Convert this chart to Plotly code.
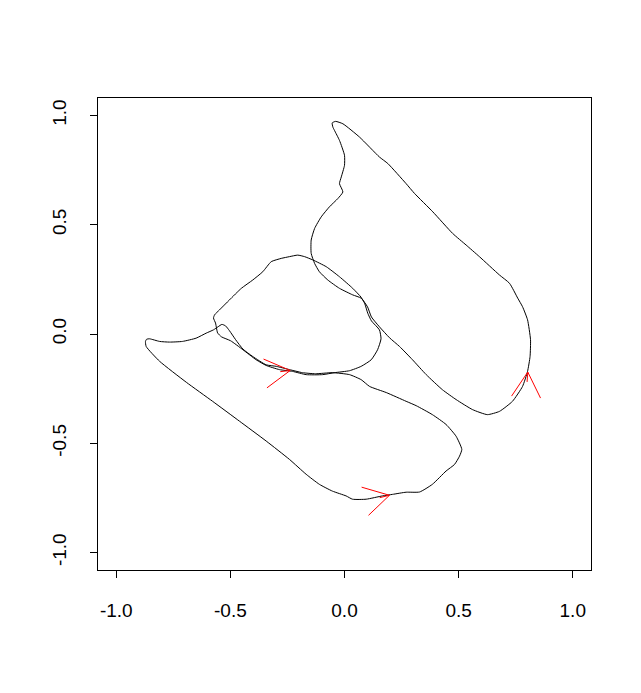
import math
import plotly.graph_objects as go

# three closed loops (counter-clockwise)
right_x = [0.626, 0.679, 0.736, 0.780, 0.802, 0.813, 0.815, 0.802, 0.780, 0.759,
           0.723, 0.679, 0.591, 0.533, 0.474, 0.387, 0.307, 0.270, 0.190, 0.153,
           0.066, -0.007, -0.039, -0.054, -0.051, -0.044, -0.022, 0.000, 0.000, -0.014,
           -0.022, -0.007, -0.029, -0.066, -0.102, -0.131, -0.146, -0.146, -0.131, -0.110,
           -0.073, -0.022, 0.036, 0.073, 0.101, 0.118, 0.153, 0.197, 0.241, 0.298,
           0.358, 0.429, 0.489, 0.561]
right_y = [-0.369, -0.354, -0.308, -0.240, -0.171, -0.103, -0.026, 0.065, 0.125, 0.164,
           0.232, 0.270, 0.354, 0.407, 0.460, 0.559, 0.643, 0.688, 0.780, 0.810,
           0.901, 0.962, 0.973, 0.966, 0.947, 0.932, 0.886, 0.818, 0.772, 0.719,
           0.688, 0.650, 0.620, 0.582, 0.536, 0.483, 0.430, 0.369, 0.323, 0.285,
           0.247, 0.209, 0.179, 0.164, 0.124, 0.078, 0.033, -0.017, -0.057, -0.118,
           -0.186, -0.255, -0.300, -0.346]

mid_x = [-0.574, -0.565, -0.561, -0.556, -0.539, -0.499, -0.445, -0.387, -0.343, -0.285,
         -0.228, -0.168, -0.096, -0.044, 0.022, 0.073, 0.117, 0.145, 0.160, 0.153,
         0.118, 0.102, 0.088, 0.073, 0.036, -0.022, -0.080, -0.139, -0.175, -0.205,
         -0.241, -0.277, -0.321, -0.358, -0.402, -0.452, -0.504, -0.548, -0.569]
mid_y = [0.073, 0.050, 0.028, 0.005, -0.013, -0.031, -0.072, -0.118, -0.144, -0.163,
         -0.171, -0.186, -0.186, -0.177, -0.168, -0.148, -0.118, -0.072, -0.022, 0.019,
         0.060, 0.095, 0.141, 0.168, 0.209, 0.262, 0.308, 0.339, 0.354, 0.361,
         0.354, 0.346, 0.331, 0.285, 0.247, 0.209, 0.156, 0.110, 0.088]

low_x = [-0.872, -0.869, -0.810, -0.693, -0.578, -0.460, -0.343, -0.241, -0.168, -0.110,
         -0.053, 0.007, 0.035, 0.095, 0.166, 0.210, 0.270, 0.329, 0.385, 0.445,
         0.482, 0.504, 0.514, 0.489, 0.445, 0.385, 0.314, 0.270, 0.183, 0.110,
         0.073, 0.022, -0.053, -0.127, -0.184, -0.241, -0.299, -0.343, -0.402, -0.445,
         -0.477, -0.504, -0.521, -0.537, -0.554, -0.574, -0.606, -0.650, -0.710, -0.767,
         -0.810, -0.854, -0.867]
low_y = [-0.034, -0.057, -0.125, -0.221, -0.308, -0.399, -0.490, -0.574, -0.642, -0.688,
         -0.719, -0.741, -0.756, -0.756, -0.741, -0.734, -0.724, -0.723, -0.688, -0.627,
         -0.597, -0.559, -0.528, -0.468, -0.414, -0.369, -0.328, -0.308, -0.268, -0.240,
         -0.209, -0.186, -0.177, -0.182, -0.177, -0.163, -0.148, -0.141, -0.103, -0.069,
         -0.026, 0.015, 0.037, 0.044, 0.033, 0.019, 0.004, -0.019, -0.034, -0.037,
         -0.034, -0.022, -0.024]

# direction arrows (x0, y0) -> (x1, y1)
arr_x0 = [-0.2815, 0.154, 0.800]
arr_y0 = [-0.1724, -0.749, -0.2195]
arr_x1 = [-0.238, 0.197, 0.803]
arr_y1 = [-0.167, -0.738, -0.174]

ticks = [-1.0, -0.5, 0.0, 0.5, 1.0]
tick_text = ["-1.0", "-0.5", "0.0", "0.5", "1.0"]

# page body has an 8px margin, so the figure is a bit smaller than the window
W, H = 633, 685
ML, MR, MT, MB = 90, 50, 90, 123
RNG = [-1.08, 1.08]
sx = (W - ML - MR) / (RNG[1] - RNG[0])
sy = (H - MT - MB) / (RNG[1] - RNG[0])

cx, cy = [], []
for xs, ys in [(right_x, right_y), (mid_x, mid_y), (low_x, low_y)]:
    cx += xs + [xs[0], None]
    cy += ys + [ys[0], None]

# arrow heads like R's arrows(): 30 degrees, fixed length in pixels
head = 29
ax, ay = [], []
for x0, y0, x1, y1 in zip(arr_x0, arr_y0, arr_x1, arr_y1):
    ang = math.atan2((y1 - y0) * sy, (x1 - x0) * sx)
    for d in (math.radians(30), -math.radians(30)):
        a = ang + math.pi + d
        ax += [x1 + head * math.cos(a) / sx, x1, None]
        ay += [y1 + head * math.sin(a) / sy, y1, None]
    ax += [x0, x1, None]
    ay += [y0, y1, None]

fig = go.Figure()
fig.add_trace(go.Scatter(x=cx, y=cy, mode="lines", line=dict(color="black", width=1, shape="spline", smoothing=0.5),
                         hoverinfo="skip"))
fig.add_trace(go.Scatter(x=ax, y=ay, mode="lines", line=dict(color="red", width=1), hoverinfo="skip"))

axis = dict(range=RNG, showgrid=False, zeroline=False, showline=True, mirror=True,
            linecolor="black", linewidth=1, ticks="outside", ticklen=7, tickwidth=1,
            tickcolor="black", tickvals=ticks, ticktext=tick_text,
            tickfont=dict(family="Liberation Sans, Arial", size=19, color="black"))
fig.update_layout(
    width=W, height=H, showlegend=False,
    plot_bgcolor="white", paper_bgcolor="white",
    margin=dict(l=ML, r=MR, t=MT, b=MB),
    xaxis=dict(axis, ticklabelstandoff=16),
    yaxis=dict(axis, tickangle=-90, ticklabelstandoff=16),
)
fig.write_html("out.html")
